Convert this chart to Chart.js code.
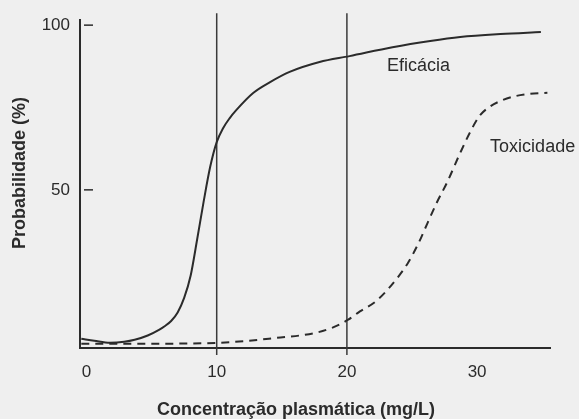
<!DOCTYPE html>
<html>
<head>
<meta charset="utf-8">
<script src="https://cdn.jsdelivr.net/npm/chart.js@4.4.1/dist/chart.umd.min.js"></script>
<style>
  html, body { margin: 0; padding: 0; background: #efefef; }
  #wrap { width: 579px; height: 419px; position: relative; }
</style>
</head>
<body>
<div id="wrap"><canvas id="ch_prob"></canvas></div>
<script>
/* ── data ─────────────────────────────────────────────────────── */
const xTicks = [0, 10, 20, 30];
const yTicks = [50, 100];
const markerLines = [10, 20];

// Eficácia (solid)
const eficaciaX = [-0.4, 0.6, 1.8, 2.9, 3.7, 4.7, 5.6, 6.0, 6.5, 7.0, 7.5, 8.0, 8.5, 9.0, 9.5, 10.0, 10.5, 11.0, 11.5, 12.8, 14.1, 15.6, 17.9, 20.2, 23.5, 26.4, 28.7, 31.8, 34.9];
const eficaciaY = [4.8, 4.2, 3.6, 3.9, 4.5, 5.8, 7.6, 8.6, 10.2, 12.8, 17.2, 24, 35, 46.5, 57, 64.5, 68.8, 71.8, 74.2, 79.4, 82.7, 85.8, 88.8, 90.6, 93.3, 95.2, 96.4, 97.3, 97.9];

// Toxicidade (dashed)
const toxicidadeX = [-0.4, 4.9, 10.2, 12.5, 14.9, 16.4, 17.7, 18.9, 20.1, 21.0, 22.2, 23.1, 23.9, 24.7, 25.5, 26.2, 26.9, 27.7, 28.7, 29.5, 30.2, 31.0, 32.0, 33.0, 34.0, 35.4];
const toxicidadeY = [3.3, 3.3, 3.6, 4.2, 5.2, 5.8, 6.7, 8.2, 10.6, 13.1, 16.1, 19.6, 23.4, 27.9, 33.8, 40, 46.1, 52.3, 61.2, 67.8, 72.5, 75.3, 77.3, 78.5, 79.1, 79.5];

const FONT = "'Liberation Sans', Arial, Helvetica, sans-serif";
const INK = '#2b2b2b';

function pairs(xs, ys) { return xs.map((x, i) => ({ x, y: ys[i] })); }

/* ── extra drawing: marker lines, inner y ticks, labels ───────── */
const figurePlugin = {
  id: 'figure',
  beforeDatasetsDraw(chart) {
    const { ctx, chartArea: a, scales: { x, y } } = chart;
    ctx.save();
    ctx.strokeStyle = '#3a3a3a';
    ctx.lineWidth = 1.5;
    markerLines.forEach(v => {
      const px = x.getPixelForValue(v);
      ctx.beginPath(); ctx.moveTo(px, a.top - 7); ctx.lineTo(px, a.bottom + 7); ctx.stroke();
    });
    // y tick marks sit inside the axis, a little off it
    ctx.strokeStyle = INK;
    yTicks.forEach(v => {
      const py = y.getPixelForValue(v);
      ctx.beginPath(); ctx.moveTo(a.left + 4, py); ctx.lineTo(a.left + 13, py); ctx.stroke();
    });
    ctx.restore();
  },
  afterDraw(chart) {
    const { ctx, chartArea: a, scales: { x, y } } = chart;
    ctx.save();
    ctx.fillStyle = INK;
    ctx.textBaseline = 'middle';

    ctx.font = `18px ${FONT}`;
    ctx.textAlign = 'center';
    ctx.fillText('Eficácia', x.getPixelForValue(25.5), y.getPixelForValue(87.6));
    ctx.textAlign = 'left';
    ctx.fillText('Toxicidade', x.getPixelForValue(31), y.getPixelForValue(63));

    ctx.font = `bold 18px ${FONT}`;
    ctx.textAlign = 'center';
    ctx.fillText('Concentração plasmática (mg/L)', a.left + 216, 410);
    ctx.translate(20, 173);
    ctx.rotate(-Math.PI / 2);
    ctx.fillText('Probabilidade (%)', 0, 0);
    ctx.restore();
  }
};

/* ── chart ────────────────────────────────────────────────────── */
const chart = new Chart(document.getElementById('ch_prob').getContext('2d'), {
  type: 'line',
  data: {
    datasets: [
      {
        label: 'Eficácia',
        data: pairs(eficaciaX, eficaciaY),
        borderColor: INK,
        borderWidth: 2,
        pointRadius: 0,
        cubicInterpolationMode: 'monotone'
      },
      {
        label: 'Toxicidade',
        data: pairs(toxicidadeX, toxicidadeY),
        borderColor: INK,
        borderWidth: 2,
        borderDash: [8, 6],
        pointRadius: 0,
        cubicInterpolationMode: 'monotone'
      }
    ]
  },
  options: {
    responsive: true,
    maintainAspectRatio: false,
    animation: false,
    layout: { padding: { top: 20, right: 29, left: 0, bottom: 0 } },
    plugins: { legend: { display: false }, tooltip: { enabled: false } },
    scales: {
      x: {
        type: 'linear',
        min: -0.5,
        max: 35.6,
        afterBuildTicks: s => { s.ticks = xTicks.map(v => ({ value: v })); },
        afterFit: s => { s.height = 71; },
        grid: { display: false, drawTicks: false },
        border: { color: INK, width: 2 },
        ticks: { padding: 14, color: INK, font: { family: FONT, size: 17 } }
      },
      y: {
        min: 2,
        max: 101.5,
        afterBuildTicks: s => { s.ticks = yTicks.map(v => ({ value: v })); },
        afterFit: s => { s.width = 80; },
        grid: { display: false, drawTicks: false },
        border: { color: INK, width: 2 },
        ticks: { padding: 10, color: INK, font: { family: FONT, size: 17 } }
      }
    }
  },
  plugins: [figurePlugin]
});
</script>
</body>
</html>
